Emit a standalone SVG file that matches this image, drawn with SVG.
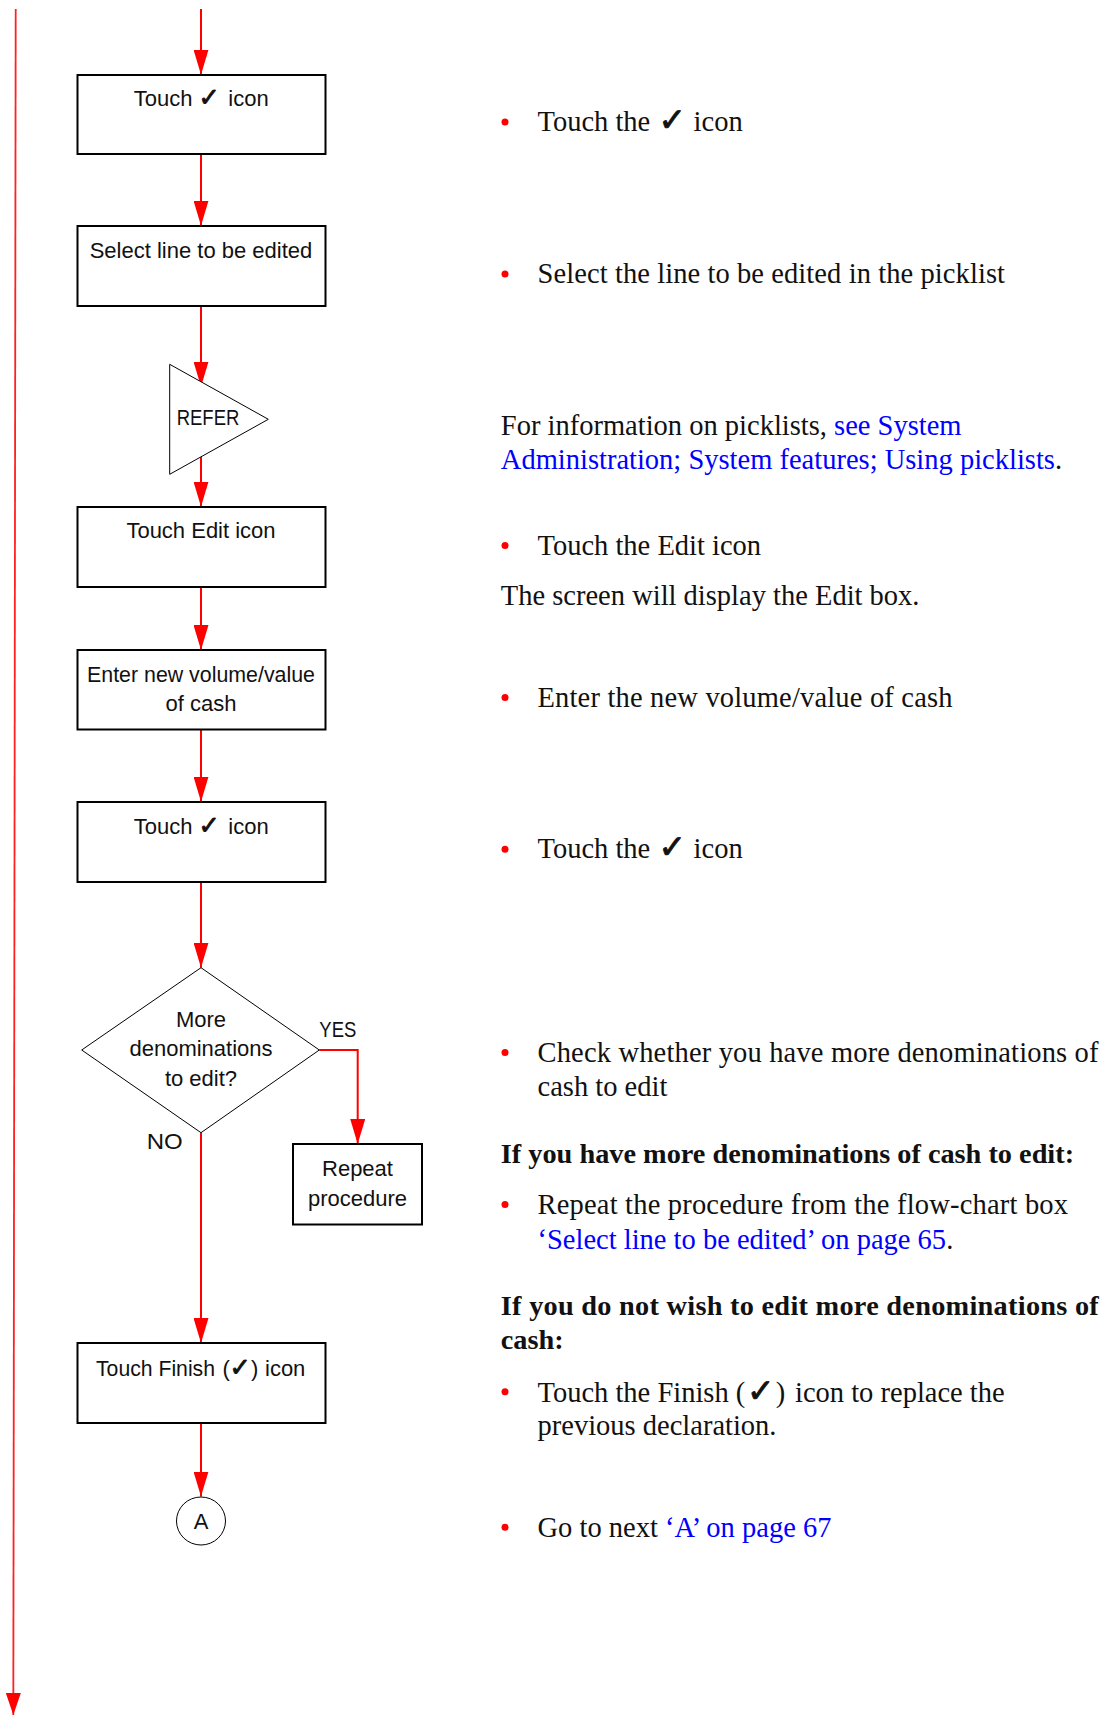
<svg xmlns="http://www.w3.org/2000/svg" width="1111" height="1715" viewBox="0 0 1111 1715">
  <style>
    .box { fill: #fff; stroke: #000; stroke-width: 2; }
    .shape { fill: #fff; stroke: #000; stroke-width: 1; }
    .flow { fill: none; stroke: #ff0000; stroke-width: 2; }
    .lbl { font-family: "Liberation Sans", Arial, sans-serif; font-size: 22px; fill: #111; }
    .mid { text-anchor: middle; }
    .ck { font-family: "DejaVu Sans", sans-serif; font-size: 1.15em; stroke: #111; stroke-width: 0.9; stroke-linejoin: round; }
    .body { font-family: "Liberation Serif", "Times New Roman", serif; font-size: 28.5px; fill: #111; }
    .head { font-family: "Liberation Serif", "Times New Roman", serif; font-size: 28.3px; font-weight: bold; fill: #111; }
    .link { fill: #0000ff; }
    .dot { fill: #ff0000; }
  </style>
  <defs>
    <marker id="arrow" markerUnits="userSpaceOnUse" markerWidth="25" markerHeight="15" refX="25" refY="7.5" orient="auto">
      <path d="M0,0 L25,7.5 L0,15 z" fill="#ff0000"/>
    </marker>
    <marker id="arrowThin" markerUnits="userSpaceOnUse" markerWidth="22" markerHeight="15" refX="22" refY="7.5" orient="auto">
      <path d="M0,0 L22,7.5 L0,15 z" fill="#ff0000"/>
    </marker>
  </defs>
  <rect width="1111" height="1715" fill="#fff"/>

  <!-- connectors -->
  <g id="connectors">
    <line x1="15.7" y1="9" x2="13.3" y2="1715" stroke="#ff2020" stroke-width="1.8" marker-end="url(#arrowThin)"/>
    <line class="flow" x1="201" y1="9" x2="201" y2="74.7" marker-end="url(#arrow)"/>
    <line class="flow" x1="201" y1="154" x2="201" y2="225.7" marker-end="url(#arrow)"/>
    <line class="flow" x1="201" y1="306" x2="201" y2="386.7" marker-end="url(#arrow)"/>
    <line class="flow" x1="201" y1="456.8" x2="201" y2="506.7" marker-end="url(#arrow)"/>
    <line class="flow" x1="201" y1="587" x2="201" y2="650" marker-end="url(#arrow)"/>
    <line class="flow" x1="201" y1="729.7" x2="201" y2="801.7" marker-end="url(#arrow)"/>
    <line class="flow" x1="201" y1="882" x2="201" y2="967.7" marker-end="url(#arrow)"/>
    <polyline class="flow" points="319.3,1050 357.7,1050 357.7,1144" marker-end="url(#arrow)"/>
    <line class="flow" x1="201" y1="1132.7" x2="201" y2="1343" marker-end="url(#arrow)"/>
    <line class="flow" x1="201" y1="1423" x2="201" y2="1496.5" marker-end="url(#arrow)"/>
    <text class="lbl" x="319.3" y="1037.3" textLength="37" lengthAdjust="spacingAndGlyphs">YES</text>
    <text class="lbl" x="146.7" y="1149.3" textLength="36" lengthAdjust="spacingAndGlyphs">NO</text>
  </g>

  <!-- flow-chart nodes -->
  <g id="touch-tick-1">
    <rect class="box" x="77.5" y="75" width="248" height="79"/>
    <text class="lbl" y="106"><tspan x="133.7">Touch</tspan><tspan class="ck" x="198.5">✓</tspan><tspan x="228.3">icon</tspan></text>
  </g>
  <g id="select-line">
    <rect class="box" x="77.5" y="226" width="248" height="80"/>
    <text class="lbl mid" x="201" y="258.3">Select line to be edited</text>
  </g>
  <g id="refer">
    <polygon class="shape" points="169.7,364.3 268.3,419.3 169.7,474.3"/>
    <text class="lbl" x="176.7" y="425" textLength="62.6" lengthAdjust="spacingAndGlyphs">REFER</text>
  </g>
  <g id="touch-edit">
    <rect class="box" x="77.5" y="507" width="248" height="80"/>
    <text class="lbl mid" x="201" y="538.3">Touch Edit icon</text>
  </g>
  <g id="enter-value">
    <rect class="box" x="77.5" y="650" width="248" height="79.5"/>
    <text class="lbl mid" x="201" y="681.7" textLength="228" lengthAdjust="spacingAndGlyphs">Enter new volume/value</text>
    <text class="lbl mid" x="201" y="710.7">of cash</text>
  </g>
  <g id="touch-tick-2">
    <rect class="box" x="77.5" y="802" width="248" height="80"/>
    <text class="lbl" y="834"><tspan x="133.7">Touch</tspan><tspan class="ck" x="198.5">✓</tspan><tspan x="228.3">icon</tspan></text>
  </g>
  <g id="more-decision">
    <polygon class="shape" points="201,967.7 319.3,1050 201,1132.7 81.7,1050"/>
    <text class="lbl mid" x="201" y="1026.7">More</text>
    <text class="lbl mid" x="201" y="1056">denominations</text>
    <text class="lbl mid" x="201" y="1085.7">to edit?</text>
  </g>
  <g id="repeat-procedure">
    <rect class="box" x="293" y="1144" width="129" height="80.5"/>
    <text class="lbl mid" x="357.5" y="1176">Repeat</text>
    <text class="lbl mid" x="357.5" y="1206">procedure</text>
  </g>
  <g id="touch-finish">
    <rect class="box" x="77.5" y="1343" width="248" height="80"/>
    <text class="lbl" y="1375.8"><tspan x="96" textLength="119" lengthAdjust="spacingAndGlyphs">Touch Finish</tspan><tspan x="222.5">(</tspan><tspan class="ck" x="229.5">✓</tspan><tspan x="251">)</tspan><tspan x="265">icon</tspan></text>
  </g>
  <g id="connector-a">
    <ellipse class="shape" cx="201" cy="1521" rx="24.5" ry="24" stroke-width="1.3"/>
    <text class="lbl mid" x="201" y="1528.5">A</text>
  </g>

  <!-- step notes -->
  <g id="notes">
    <circle class="dot" cx="505" cy="122" r="3.5"/>
    <text class="body" y="131.4"><tspan x="537.5">Touch the</tspan><tspan class="ck" x="658.5">✓</tspan><tspan x="693.6">icon</tspan></text>

    <circle class="dot" cx="505" cy="274" r="3.5"/>
    <text class="body" x="537.5" y="283.2" textLength="467.5" lengthAdjust="spacing">Select the line to be edited in the picklist</text>

    <text class="body" x="500.8" y="435">For information on picklists, <tspan class="link">see System</tspan></text>
    <text class="body" x="500.8" y="468.5"><tspan class="link">Administration; System features; Using picklists</tspan>.</text>

    <circle class="dot" cx="505" cy="545.5" r="3.5"/>
    <text class="body" x="537.5" y="554.6">Touch the Edit icon</text>
    <text class="body" x="500.8" y="604.6">The screen will display the Edit box.</text>

    <circle class="dot" cx="505" cy="697.5" r="3.5"/>
    <text class="body" x="537.5" y="707" textLength="415" lengthAdjust="spacing">Enter the new volume/value of cash</text>

    <circle class="dot" cx="505" cy="849.3" r="3.5"/>
    <text class="body" y="858.4"><tspan x="537.5">Touch the</tspan><tspan class="ck" x="658.5">✓</tspan><tspan x="693.6">icon</tspan></text>

    <circle class="dot" cx="505" cy="1052.5" r="3.5"/>
    <text class="body" x="537.5" y="1061.7" textLength="561" lengthAdjust="spacing">Check whether you have more denominations of</text>
    <text class="body" x="537.5" y="1096">cash to edit</text>

    <text class="head" x="500.8" y="1162.6">If you have more denominations of cash to edit:</text>

    <circle class="dot" cx="505" cy="1204.5" r="3.5"/>
    <text class="body" x="537.5" y="1214" textLength="530.5" lengthAdjust="spacing">Repeat the procedure from the flow-chart box</text>
    <text class="body" x="537.5" y="1248.5"><tspan class="link">‘Select line to be edited’ on page 65</tspan>.</text>

    <text class="head" x="500.8" y="1315" textLength="598" lengthAdjust="spacing">If you do not wish to edit more denominations of</text>
    <text class="head" x="500.8" y="1349">cash:</text>

    <circle class="dot" cx="505" cy="1391.8" r="3.5"/>
    <text class="body" y="1401.5"><tspan x="537.5">Touch the Finish (</tspan><tspan class="ck" x="747">✓</tspan><tspan x="775.8">)</tspan><tspan x="795">icon to replace the</tspan></text>
    <text class="body" x="537.5" y="1435">previous declaration.</text>

    <circle class="dot" cx="505" cy="1527.3" r="3.5"/>
    <text class="body" x="537.5" y="1536.7">Go to next <tspan class="link">‘A’ on page 67</tspan></text>
  </g>
</svg>
